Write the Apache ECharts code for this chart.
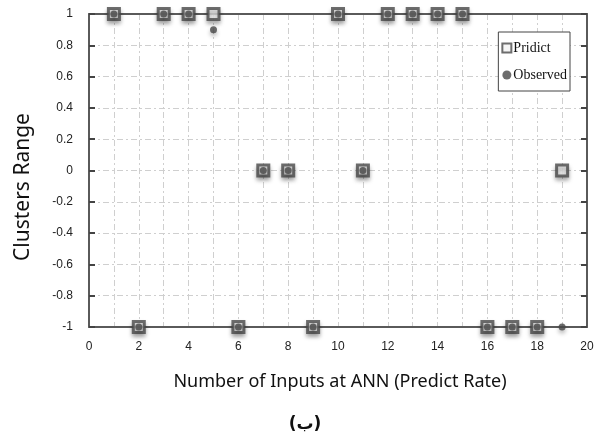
<!DOCTYPE html>
<html>
<head>
<meta charset="utf-8">
<script src="https://cdn.jsdelivr.net/npm/echarts@6/dist/echarts.min.js"></script>
<style>
  html, body { margin: 0; padding: 0; background: #fff; }
  #chart { width: 598px; height: 439px; }
</style>
</head>
<body>
<div id="chart"></div>
<script>
// inputs 1..19
var inputs = [1, 2, 3, 4, 5, 6, 7, 8, 9, 10, 11, 12, 13, 14, 15, 16, 17, 18, 19]
var predict = [1, -1, 1, 1, 1, -1, 0, 0, -1, 1, 0, 1, 1, 1, 1, -1, -1, -1, 0]
var observed = [1, -1, 1, 1, 0.9, -1, 0, 0, -1, 1, 0, 1, 1, 1, 1, -1, -1, -1, -1]
var yTicks = [-1, -0.8, -0.6, -0.4, -0.2, 0, 0.2, 0.4, 0.6, 0.8, 1]

var chart = echarts.init(document.getElementById('chart'))

var gridLine = { show: true, lineStyle: { color: '#cfcfcf', type: [6, 3, 2, 3], width: 1 } }
var frame = { show: true, onZero: false, lineStyle: { color: '#5a5a5a', width: 2 } }
var shadow = { shadowColor: 'rgba(0,0,0,0.35)', shadowBlur: 4, shadowOffsetY: 3 }
var tickFont = { fontFamily: 'Liberation Sans', fontSize: 12, color: '#222' }

var option = {
  backgroundColor: '#fff',
  animation: false,
  grid: { left: 89, right: 11, top: 14, bottom: 112 },
  legend: {
    orient: 'vertical',
    right: 28,
    top: 32,
    padding: [9, 3, 9, 3],
    itemGap: 13,
    itemWidth: 9,
    itemHeight: 9,
    borderColor: '#444',
    borderWidth: 1,
    backgroundColor: '#fff',
    textStyle: { fontFamily: 'Liberation Serif', fontSize: 14, color: '#111', padding: [0, 0, 0, -3] },
    data: ['Pridict', 'Observed']
  },
  xAxis: [{
    type: 'value',
    min: 0,
    max: 20,
    interval: 1,
    axisLine: frame,
    axisTick: { show: false },
    axisLabel: Object.assign({
      margin: 14,
      formatter: function (v) { return v % 2 === 0 ? String(v) : '' }
    }, tickFont),
    splitLine: gridLine
  }, {
    type: 'value',
    position: 'top',
    min: 0,
    max: 20,
    interval: 1,
    axisLine: frame,
    axisTick: { show: false },
    axisLabel: { show: false },
    splitLine: { show: false }
  }],
  yAxis: [{
    type: 'value',
    min: yTicks[0],
    max: yTicks[yTicks.length - 1],
    interval: 0.2,
    axisLine: frame,
    axisTick: { show: true, inside: true, length: 6, lineStyle: { color: '#444', width: 2 } },
    axisLabel: Object.assign({
      margin: 16,
      formatter: function (v) { return String(Math.round(v * 10) / 10) }
    }, tickFont),
    splitLine: gridLine
  }, {
    type: 'value',
    position: 'right',
    min: yTicks[0],
    max: yTicks[yTicks.length - 1],
    interval: 0.2,
    axisLine: frame,
    axisTick: { show: true, inside: true, length: 6, lineStyle: { color: '#444', width: 2 } },
    axisLabel: { show: false },
    splitLine: { show: false }
  }],
  series: [{
    name: 'Pridict',
    type: 'scatter',
    symbol: 'rect',
    symbolSize: 11,
    itemStyle: Object.assign({ color: '#f2f2f2', borderColor: '#4a4a4a', borderWidth: 3 }, shadow),
    data: inputs.map(function (x, i) { return [x, predict[i]] }),
    z: 3
  }, {
    name: 'Observed',
    type: 'scatter',
    symbol: 'circle',
    symbolSize: 7,
    itemStyle: Object.assign({ color: '#474747' }, shadow),
    data: inputs.map(function (x, i) { return [x, observed[i]] }),
    z: 4
  }],
  graphic: [{
    type: 'text',
    x: 23,
    y: 187,
    rotation: Math.PI / 2,
    style: { text: 'Clusters Range', fontFamily: 'Noto Sans', fontSize: 21, fill: '#111', align: 'center', verticalAlign: 'middle' }
  }, {
    type: 'text',
    x: 340,
    y: 382,
    style: { text: 'Number of Inputs at ANN (Predict Rate)', fontFamily: 'Noto Sans', fontSize: 18, fill: '#111', align: 'center', verticalAlign: 'middle' }
  }, {
    type: 'text',
    x: 305,
    y: 425,
    style: { text: '(ب)', fontFamily: 'DejaVu Sans', fontSize: 17, fontWeight: 'bold', fill: '#111', align: 'center', verticalAlign: 'middle' }
  }]
}

chart.setOption(option, true)
</script>
</body>
</html>
